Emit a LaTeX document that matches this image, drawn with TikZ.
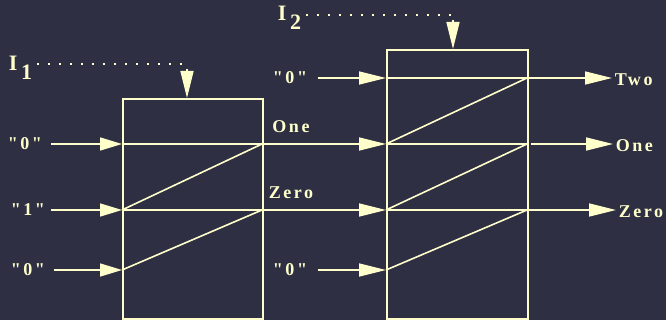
\documentclass[tikz,border=0pt]{standalone}
\usepackage{fontspec}
\setmainfont{Liberation Serif}[Ligatures=TeXOff]
\usetikzlibrary{arrows.meta, positioning}
\definecolor{navy}{HTML}{2E2F43}
\definecolor{cream}{HTML}{FFFFCC}

\begin{document}
\begin{tikzpicture}[x=1pt, y=-1pt, line width=1.6pt, cream,
    every node/.style={text=cream, inner sep=2pt, font=\bfseries\fontsize{18}{20}\selectfont\addfontfeatures{LetterSpace=14}},
    feed/.style={-{Triangle[length=22pt, width=13pt]}},
    pass/.style={-{Triangle[length=27pt, width=13pt]}},
    ctrl/.style={line width=1.8pt, dash pattern=on 1.8pt off 9.2pt}]
    \fill[navy] (0,0) rectangle (666,320);
    \useasboundingbox (0,0) rectangle (666,320);

    % Boxes
    \node (box1) [draw, anchor=north west, minimum width=140pt, minimum height=220pt, inner sep=0pt] at (122,98) {};
    \node (box2) [draw, anchor=north west, minimum width=141pt, minimum height=269pt, inner sep=0pt] at (386,49) {};

    % Rows of box 1
    \coordinate (p0) at (122,144);
    \coordinate (p1) at (122,210);
    \coordinate (p2) at (122,270);
    \coordinate (q0) at (262,144);
    \coordinate (q1) at (262,210);

    % Rows of box 2
    \coordinate (r0) at (386,78);
    \coordinate (r1) at (386,144);
    \coordinate (r2) at (386,210);
    \coordinate (r3) at (386,270);
    \coordinate (s0) at (527,78);
    \coordinate (s1) at (527,144);
    \coordinate (s2) at (527,210);

    % Control inputs
    \node (i1) [anchor=base west, inner sep=0pt, font=\bfseries\fontsize{22}{24}\selectfont] at (8,71) {I\,\raisebox{-9pt}{1}};
    \node (i2) [anchor=base west, inner sep=0pt, font=\bfseries\fontsize{22}{24}\selectfont] at (277,21) {I\,\raisebox{-9pt}{2}};
    \coordinate (t1) at (187,64);
    \coordinate (t2) at (453,15);
    \draw[ctrl] ([xshift=4pt]i1.east |- t1) -- (t1);
    \draw[ctrl] ([xshift=4pt]i2.east |- t2) -- (t2);
    \draw[pass, shorten <=5pt] (t1) -- (t1 |- box1.north);
    \draw[pass, shorten <=5pt] (t2) -- (t2 |- box2.north);

    % Inputs of box 1
    \node (in0) at (25,144) {"0"};
    \node (in1) at (28,210) {"1"};
    \node (in2) at (28,270) {"0"};
    \draw[feed, shorten <=6pt] (in0) -- (p0);
    \draw[feed, shorten <=3pt] (in1) -- (p1);
    \draw[feed, shorten <=6pt] (in2) -- (p2);

    % Inside box 1
    \draw (p0) -- (q0);
    \draw (p1) -- (q1);
    \draw (p1) -- (q0);
    \draw (p2) -- (q1);

    % Box 1 to box 2
    \node (one1) at (291,127) {One};
    \node (zero1) at (291,193) {Zero};
    \node (in3) at (290,78) {"0"};
    \node (in4) at (290,270) {"0"};
    \draw[pass] (q0) -- (r1);
    \draw[pass] (q1) -- (r2);
    \draw[pass, shorten <=8pt] (in3) -- (r0);
    \draw[pass, shorten <=8pt] (in4) -- (r3);

    % Inside box 2
    \draw (r0) -- (s0);
    \draw (r1) -- (s1);
    \draw (r2) -- (s2);
    \draw (r1) -- (s0);
    \draw (r2) -- (s1);
    \draw (r3) -- (s2);

    % Outputs
    \node (two) [anchor=west] at (612,80) {Two};
    \node (one2) [anchor=west] at (613,146) {One};
    \node (zero2) [anchor=west] at (616,212) {Zero};
    \draw[pass] (s0) -- (s0 -| two.west);
    \draw[pass, shorten <=4pt] (s1) -- (s1 -| one2.west);
    \draw[pass] (s2) -- (s2 -| zero2.west);
\end{tikzpicture}
\end{document}
